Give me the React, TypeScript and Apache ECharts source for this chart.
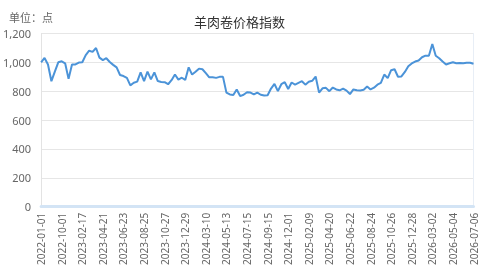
import React, { useEffect, useRef } from "react";
import * as echarts from "echarts";

const TITLE = "羊肉卷价格指数";
const UNIT = "单位：点";

const tickLabels = [
  "2022-01-01", "2022-10-01", "2023-02-17", "2023-04-21", "2023-06-23",
  "2023-08-25", "2023-10-27", "2023-12-29", "2024-03-10", "2024-05-13",
  "2024-07-15", "2024-09-15", "2024-12-01", "2025-02-09", "2025-04-20",
  "2025-06-22", "2025-08-24", "2025-10-26", "2025-12-28", "2026-03-02",
  "2026-05-04", "2026-07-06",
];

const STEP = 6; // data points between labelled ticks

const values = [
  1000, 1030, 985, 869, 935, 1000, 1007, 993, 885, 984,
  985, 998, 1000, 1050, 1080, 1072, 1099, 1032, 1015, 1028,
  1002, 982, 965, 912, 905, 892, 840, 858, 866, 930,
  869, 935, 882, 930, 870, 864, 862, 848, 876, 915,
  880, 893, 878, 965, 915, 935, 956, 952, 925, 896,
  896, 892, 899, 899, 790, 777, 774, 812, 766, 775,
  793, 790, 778, 790, 775, 770, 772, 818, 850, 800,
  848, 862, 815, 860, 846, 858, 869, 845, 865, 872,
  901, 790, 820, 823, 800, 825, 812, 806, 818, 804,
  780, 812, 806, 804, 810, 832, 812, 824, 845, 857,
  915, 890, 945, 952, 900, 902, 933, 972, 992, 1005,
  1012, 1035, 1046, 1045, 1126, 1045, 1028, 1005, 985, 993,
  1000, 993, 995, 994, 997, 997, 990,
];

const categories = values.map((_, i) =>
  i % STEP === 0 ? tickLabels[i / STEP] ?? "" : ""
);

const FONT = "'Noto Sans', 'Noto Sans CJK SC', sans-serif";

export default function App() {
  const ref = useRef<HTMLDivElement>(null);
  useEffect(() => {
    if (!ref.current) return;
    const chart = echarts.init(ref.current, undefined, { renderer: "svg" });
    chart.setOption({
      animation: false,
      textStyle: { fontFamily: FONT },
      title: [
        {
          text: TITLE,
          left: "center",
          top: 10,
          textStyle: { fontSize: 13, fontWeight: "normal", color: "#333", fontFamily: FONT },
        },
        {
          text: UNIT,
          left: 4,
          top: 7,
          textStyle: { fontSize: 11, fontWeight: "normal", color: "#666", fontFamily: FONT },
        },
      ],
      grid: { left: 38.5, right: 5.5, top: 33.4, bottom: 62.3, containLabel: false },
      xAxis: {
        type: "category",
        data: categories,
        boundaryGap: false,
        axisLine: { show: true, lineStyle: { color: "#d3e4f5", width: 3 } },
        axisTick: { show: false },
        axisLabel: {
          rotate: 90,
          interval: (index: number) => index % STEP === 0,
          color: "#666",
          fontSize: 10,
          margin: 6,
          fontFamily: FONT,
        },
        splitLine: { show: false },
      },
      yAxis: [
        {
          type: "value",
          min: 0,
          max: 1200,
          interval: 200,
          axisLine: { show: true, lineStyle: { color: "#e3e3e3" } },
          axisTick: { show: false },
          axisLabel: {
            color: "#666",
            fontSize: 11,
            margin: 10,
            fontFamily: FONT,
            formatter: (v: number) => v.toLocaleString("en-US"),
          },
          splitLine: { show: true, lineStyle: { color: "#e6e6e6" } },
        },
        {
          type: "value",
          position: "right",
          min: 0,
          max: 1200,
          interval: 200,
          axisLine: { show: true, lineStyle: { color: "#e8eef6" } },
          axisTick: { show: false },
          axisLabel: { show: false },
          splitLine: { show: false },
        },
      ],
      series: [
        {
          type: "line",
          data: values,
          yAxisIndex: 0,
          showSymbol: false,
          symbol: "none",
          lineStyle: { color: "#4b93d8", width: 2 },
        },
      ],
    });
    return () => chart.dispose();
  }, []);
  return (
    <div
      ref={ref}
      style={{ position: "fixed", left: 0, top: 0, width: 479, height: 269 }}
    />
  );
}
